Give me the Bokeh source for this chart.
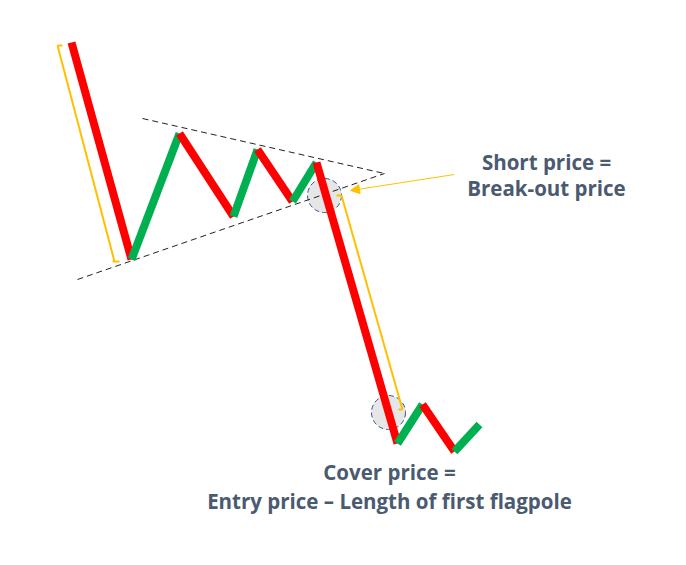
from bokeh.plotting import figure
from bokeh.models import Range1d, Arrow, NormalHead
from bokeh.core.properties import value
from bokeh.embed import file_html
from bokeh.resources import INLINE

# Price path of the bear flag (x = time position, y = screen level, down = lower price)
path_x = [72, 132, 180, 234, 258, 293, 317, 398, 423, 455, 480]
path_y = [43, 260, 134, 217, 150, 202, 163, 444, 405, 452, 425]

# Flag boundaries (dashed triangle) converging at the apex
upper_x = [143, 385]
upper_y = [119, 174]
lower_x = [78, 385]
lower_y = [280, 174]

# Flagpole length brackets (first pole and projected target)
pole1_x = [58, 115]
pole1_y = [46, 262]
pole2_x = [342, 403]
pole2_y = [196, 410]

# Entry / exit circles
circle_x = [325, 389]
circle_y = [196, 413]

# Annotation texts
label_x = [547, 547, 390, 390]
label_y = [162, 188, 472, 501]
label_text = ["Short price =", "Break-out price", "Cover price =",
              "Entry price \u2013 Length of first flagpole"]

p = figure(width=670, height=549, output_backend="svg", toolbar_location=None,
           x_range=Range1d(1, 671), y_range=Range1d(550, 1), min_border=0)
p.axis.visible = False
p.grid.visible = False
p.outline_line_color = None

# circles (behind everything)
p.scatter(circle_x, circle_y, size=34, fill_color="#E7E6E6", line_color="#2F5597",
          line_dash="5 3", line_width=1)

# dashed flag lines
p.line(upper_x, upper_y, line_color="#222222", line_dash="6 4", line_width=1)
p.line(lower_x, lower_y, line_color="#222222", line_dash="6 4", line_width=1)

# yellow brackets
p.line(pole1_x, pole1_y, line_color="#FFC000", line_width=2)
p.segment([pole1_x[0], pole1_x[1] - 2], [pole1_y[0], pole1_y[1]],
          [pole1_x[0] + 5, pole1_x[1] + 5], [pole1_y[0], pole1_y[1]],
          line_color="#FFC000", line_width=2)
p.line(pole2_x, pole2_y, line_color="#FFC000", line_width=2)
p.segment([pole2_x[0] - 5, pole2_x[1] - 4], [pole2_y[0], pole2_y[1]],
          [pole2_x[0], pole2_x[1]], [pole2_y[0], pole2_y[1]],
          line_color="#FFC000", line_width=2)

# price segments
x0, y0, x1, y1, cols = [], [], [], [], []
for i in range(len(path_x) - 1):
    x0.append(path_x[i]); y0.append(path_y[i])
    x1.append(path_x[i + 1]); y1.append(path_y[i + 1])
    cols.append("#FF0000" if path_y[i + 1] > path_y[i] else "#00B050")
p.segment(x0, y0, x1, y1, line_color=cols, line_width=8, line_cap="butt")

# arrow to break-out point
p.add_layout(Arrow(end=NormalHead(size=9, fill_color="#FFC000", line_color="#FFC000"),
                   x_start=455, y_start=175, x_end=351, y_end=191,
                   line_color="#FFC000", line_width=1))

p.text(label_x, label_y, text=label_text, text_align="center", text_baseline="middle",
       text_font=value("Open Sans"), text_font_size="20.5px", text_font_style="bold",
       text_color="#4A5A70")

open("out.html", "w").write(file_html(p, INLINE))
